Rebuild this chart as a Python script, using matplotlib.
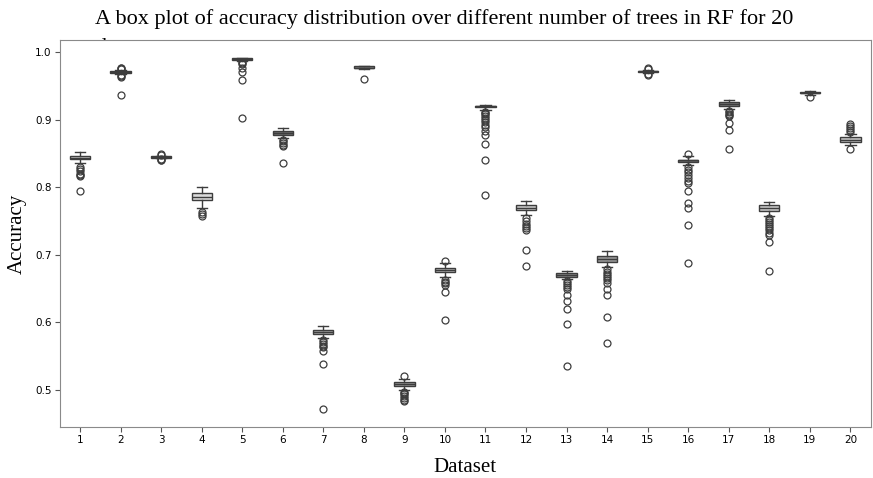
import matplotlib
matplotlib.use("Agg")
import matplotlib.pyplot as plt

# ---------------------------------------------------------------------------
# Box statistics (accuracy per dataset)
# ---------------------------------------------------------------------------
datasets = [str(i) for i in range(1, 21)]

q1 = [0.842, 0.970, 0.844, 0.781, 0.989, 0.878, 0.582, 0.976, 0.506, 0.675,
      0.919, 0.766, 0.667, 0.690, 0.971, 0.838, 0.921, 0.765, 0.939, 0.867]
med = [0.844, 0.971, 0.845, 0.786, 0.990, 0.881, 0.585, 0.977, 0.508, 0.677,
       0.920, 0.769, 0.670, 0.694, 0.972, 0.840, 0.923, 0.769, 0.940, 0.870]
q3 = [0.847, 0.972, 0.846, 0.791, 0.991, 0.884, 0.588, 0.979, 0.511, 0.680,
      0.921, 0.773, 0.673, 0.698, 0.973, 0.841, 0.926, 0.773, 0.941, 0.874]
whislo = [0.836, 0.968, 0.843, 0.770, 0.987, 0.873, 0.576, 0.975, 0.500, 0.667,
          0.915, 0.759, 0.664, 0.682, 0.969, 0.833, 0.916, 0.757, 0.937, 0.862]
whishi = [0.852, 0.974, 0.847, 0.800, 0.992, 0.888, 0.595, 0.980, 0.516, 0.688,
          0.922, 0.780, 0.676, 0.706, 0.974, 0.847, 0.930, 0.778, 0.942, 0.879]

fliers = [
    [0.830, 0.827, 0.824, 0.820, 0.818, 0.816, 0.794],
    [0.977, 0.976, 0.975, 0.966, 0.965, 0.963, 0.936],
    [0.849, 0.848, 0.842, 0.841, 0.840],
    [0.764, 0.761, 0.758],
    [0.986, 0.984, 0.982, 0.977, 0.971, 0.959, 0.903],
    [0.870, 0.868, 0.866, 0.863, 0.861, 0.836],
    [0.573, 0.570, 0.568, 0.565, 0.563, 0.557, 0.538, 0.471],
    [0.961],
    [0.520, 0.497, 0.495, 0.493, 0.490, 0.488, 0.485, 0.483],
    [0.691, 0.663, 0.660, 0.658, 0.655, 0.645, 0.603],
    [0.912, 0.910, 0.908, 0.906, 0.903, 0.900, 0.897, 0.893, 0.890, 0.884,
     0.878, 0.864, 0.840, 0.789],
    [0.754, 0.750, 0.746, 0.742, 0.739, 0.737, 0.707, 0.683],
    [0.661, 0.658, 0.655, 0.652, 0.649, 0.640, 0.631, 0.619, 0.597, 0.535],
    [0.679, 0.675, 0.672, 0.668, 0.665, 0.662, 0.658, 0.650, 0.640, 0.608,
     0.569],
    [0.976, 0.975, 0.968, 0.967],
    [0.850, 0.830, 0.826, 0.822, 0.818, 0.814, 0.810, 0.807, 0.795, 0.777,
     0.770, 0.744, 0.688],
    [0.913, 0.911, 0.909, 0.907, 0.905, 0.895, 0.885, 0.857],
    [0.755, 0.752, 0.749, 0.746, 0.743, 0.740, 0.736, 0.732, 0.729, 0.719,
     0.676],
    [0.934],
    [0.894, 0.891, 0.888, 0.885, 0.882, 0.857],
]

box_grays = ["#c8c8c8", "#707070", "#909090", "#dcdcdc", "#8a8a8a",
             "#6e6e6e", "#a8a8a8", "#8a8a8a", "#9a9a9a", "#b5b5b5",
             "#7a7a7a", "#c8c8c8", "#888888", "#999999", "#808080",
             "#6e6e6e", "#7a7a7a", "#c8c8c8", "#8a8a8a", "#c4c4c4"]

LINE = "#3d3d3d"

stats = []
for i, lab in enumerate(datasets):
    stats.append(dict(label=lab, med=med[i], q1=q1[i], q3=q3[i],
                      whislo=whislo[i], whishi=whishi[i], fliers=fliers[i]))

fig = plt.figure(figsize=(8.73, 4.78), dpi=100)
ax = fig.add_axes([0.0684, 0.107, 0.929, 0.809])
ax.set_zorder(2)

bp = ax.bxp(stats, widths=0.5, patch_artist=True,
            boxprops=dict(edgecolor=LINE, linewidth=1.0),
            medianprops=dict(color=LINE, linewidth=1.0),
            whiskerprops=dict(color=LINE, linewidth=1.0),
            capprops=dict(color=LINE, linewidth=1.0),
            flierprops=dict(marker="o", markerfacecolor="none",
                            markeredgecolor=LINE, markersize=5,
                            markeredgewidth=0.9))
for patch, c in zip(bp["boxes"], box_grays):
    patch.set_facecolor(c)

ax.set_xlim(0.5, 20.5)
ax.set_ylim(0.445, 1.018)
ax.set_yticks([0.5, 0.6, 0.7, 0.8, 0.9, 1.0])
ax.tick_params(labelsize=7.5, length=3.5, pad=2.5, color="#555555")
for s in ax.spines.values():
    s.set_color("#8a8a8a")

serif = ["Liberation Serif", "DejaVu Serif"]
ax.set_xlabel("Dataset", family=serif, fontsize=15, labelpad=9)
ax.set_ylabel("Accuracy", family=serif, fontsize=15, labelpad=6)

# title sits partly behind the axes, as in the source image
fig.text(0.109, 0.982,
         "A box plot of accuracy distribution over different number of trees in RF for 20\ndatasets",
         family=serif, fontsize=16, ha="left", va="top", zorder=1,
         linespacing=1.7)

plt.savefig("out.png", dpi=100)
